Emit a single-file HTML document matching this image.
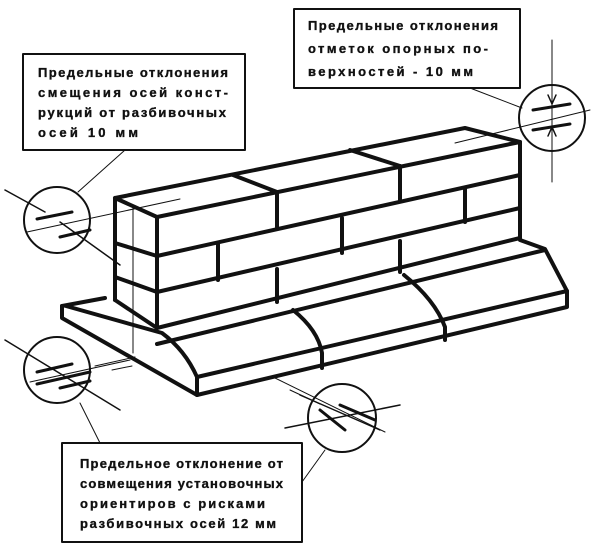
<!DOCTYPE html>
<html><head><meta charset="utf-8"><style>
body{margin:0;background:#fff}
svg{display:block}
text{font-family:"Liberation Sans",Arial,sans-serif;font-weight:bold;font-size:13px;fill:#111;stroke:#111;stroke-width:0.35}
</style></head><body>
<svg width="600" height="549" viewBox="0 0 600 549" xmlns="http://www.w3.org/2000/svg">
<g fill="none" stroke="#111" stroke-linecap="round" stroke-linejoin="round">
<rect x="23" y="54" width="222" height="96" stroke-width="2"/>
<rect x="294" y="9" width="226" height="79" stroke-width="2"/>
<rect x="62" y="443" width="240" height="99" stroke-width="2"/>

<g stroke-width="4">
<path d="M62 306 L62 318 L197 395 L567 307 L567 291 L545 249 L520 240"/>
<path d="M62 306 L105 298"/>
<path d="M66 306 L162 333 Q185 350 197 377 L567 291"/>
<path d="M157 344 L545 250"/>
<path d="M197 377 L197 395"/>
<path d="M293 310 Q318 330 322 353 L322 368"/>
<path d="M404 275 Q435 300 445 327 L445 340"/>
</g>
<g stroke-width="4">
<path d="M115 300 L115 198 L465 128 L520 142 L520 238"/>
<path d="M115 198 L157 217 L520 142"/>
<path d="M157 217 L157 328 L520 238"/>
<path d="M115 300 L157 328"/>
<path d="M115 243 L157 256 L520 175"/>
<path d="M115 277 L157 292 L520 208"/>
<path d="M277 192 L277 227"/>
<path d="M400 166 L400 200"/>
<path d="M218 244 L218 280"/>
<path d="M342 218 L342 253"/>
<path d="M465 189 L465 222"/>
<path d="M277 269 L277 302"/>
<path d="M400 241 L400 272"/>
<path d="M233 175 L277 192"/>
<path d="M350 150 L400 166"/>
</g>
<g stroke-width="1">
<path d="M133 206 L133 353"/>
<path d="M27 232 L180 199"/>
<path d="M455 143 L590 110"/>
<path d="M30 382 L130 360"/>
<path d="M95 366 L135 357 M112 370 L132 366"/>
<path d="M275 378 L385 432"/>
<path d="M290 390 L320 404"/>
<path d="M125 150 L78 192"/>
<path d="M470 88 L522 108"/>
<path d="M80 403 L100 443"/>
<path d="M325 450 L302 482"/>
<path d="M552 40 L552 182"/>
</g>
<g stroke-width="2">
<circle cx="57" cy="220" r="33"/>
<circle cx="57" cy="370" r="33"/>
<circle cx="552" cy="118" r="33"/>
<circle cx="342" cy="418" r="34"/>
</g>
<g stroke-width="3">
<path d="M37 219 L72 212 M60 237 L90 230"/>
<path d="M37 372 L72 364 M37 384 L90 372 M60 388 L90 381"/>
<path d="M533 110 L570 104 M533 130 L570 124"/>
<path d="M340 405 L375 420 M320 410 L345 430"/>
</g>
<g stroke-width="1.5">
<path d="M5 190 L45 212 M60 222 L120 265"/>
<path d="M5 340 L120 410"/>
<path d="M552 104 L548 95 M552 104 L556 95 M552 127 L548 136 M552 127 L556 136"/>
<path d="M285 428 L400 405"/>
<path d="M300 395 L380 430"/>
</g>
</g>
<text x="38" y="77" textLength="190" lengthAdjust="spacing">Предельные отклонения</text>
<text x="38" y="97" textLength="190" lengthAdjust="spacing">смещения осей конст-</text>
<text x="38" y="117" textLength="188" lengthAdjust="spacing">рукций от разбивочных</text>
<text x="38" y="137" textLength="100" lengthAdjust="spacing">осей   10 мм</text>
<text x="308" y="30" textLength="190" lengthAdjust="spacing">Предельные отклонения</text>
<text x="308" y="53" textLength="180" lengthAdjust="spacing">отметок опорных по-</text>
<text x="308" y="76" textLength="165" lengthAdjust="spacing">верхностей    - 10 мм</text>
<text x="80" y="468" textLength="203" lengthAdjust="spacing">Предельное отклонение от</text>
<text x="80" y="488" textLength="203" lengthAdjust="spacing">совмещения установочных</text>
<text x="80" y="508" textLength="185" lengthAdjust="spacing">ориентиров  с  рисками</text>
<text x="80" y="528" textLength="196" lengthAdjust="spacing">разбивочных осей 12 мм</text>
</svg>
</body></html>
